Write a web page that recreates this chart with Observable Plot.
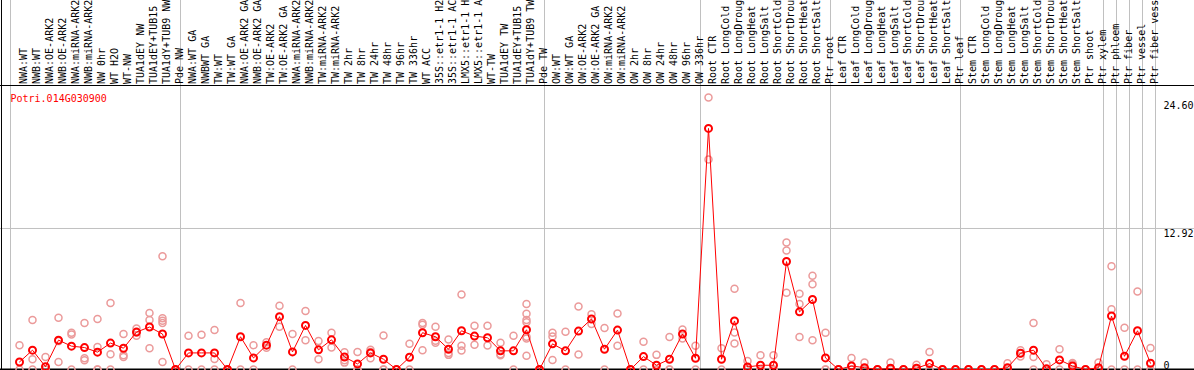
<!DOCTYPE html>
<html>
<head>
<meta charset="utf-8">
<script src="https://cdn.jsdelivr.net/npm/d3@7"></script>
<script src="https://cdn.jsdelivr.net/npm/@observablehq/plot@0.6"></script>
<style>
  html, body { margin: 0; padding: 0; background: white; }
  #chart svg { display: block; }
</style>
</head>
<body>
<div id="chart"></div>
<script>
const geneId = "Potri.014G030900";

// column labels as visible in the reference (long ones are cut at the top edge there)
const labels = [
  "NWA:WT","NWB:WT","NWA:OE-ARK2","NWB:OE-ARK2","NWA:miRNA-ARK2","NWB:miRNA-ARK2","NW 0hr","WT H2O","WT-NW","TUA1dEY NW","TUA1dEY+TUB15","TUA1dY+TUB9 NW","Pde NW",
  "NWA:WT GA","NWBWT GA","TW:WT","TW:WT GA","NWA:OE-ARK2 GA","NWB:OE-ARK2 GA","TW:OE-ARK2","TW:OE-ARK2 GA","NWA:miRNA-ARK2","NWB:miRNA-ARK2","TW:miRNA-ARK2","TW:miRNA-ARK2",
  "TW 2hr","TW 8hr","TW 24hr","TW 48hr","TW 96hr","TW 336hr","WT ACC","35S::etr1-1 H2","35S::etr1-1 AC","LMX5::etr1-1 H","LMX5::etr1-1 A","WT-TW","TUA1dEY TW","TUA1dEY+TUB15","TUA1dY+TUB9 TW","Pde TW",
  "OW:WT","OW:WT GA","OW:OE-ARK2","OW:OE-ARK2 GA","OW:miRNA-ARK2","OW:miRNA-ARK2","OW 2hr","OW 8hr","OW 24hr","OW 48hr","OW 96hr","OW 336hr",
  "Root CTR","Root LongCold","Root LongDroug","Root LongHeat","Root LongSalt","Root ShortCold","Root ShortDrou","Root ShortHeat","Root ShortSalt","Ptr root",
  "Leaf CTR","Leaf LongCold","Leaf LongDroug","Leaf LongHeat","Leaf LongSalt","Leaf ShortCold","Leaf ShortDrou","Leaf ShortHeat","Leaf ShortSalt","Ptr leaf",
  "Stem CTR","Stem LongCold","Stem LongDroug","Stem LongHeat","Stem LongSalt","Stem ShortCold","Stem ShortDrou","Stem ShortHeat","Stem ShortSalt","Ptr shoot",
  "Ptr xylem","Ptr phloem","Ptr fiber","Ptr vessel","Ptr fiber vess"
];

const means = [
  0.69,1.77,0.26,2.69,2.14,2.01,1.59,2.42,1.95,3.43,3.89,3.25,0,
  1.52,1.52,1.52,0,3.0,1.06,2.23,4.84,1.61,4.04,1.8,2.72,1.15,0.51,1.52,0.94,0,1.12,3.37,3.0,1.86,3.55,3.06,2.91,1.71,1.71,3.64,0,
  2.35,1.71,3.52,4.63,1.86,3.61,0,1.18,0.39,0.94,3.25,1.03,
  22.09,0.94,4.45,0.23,0.39,0.39,9.89,5.28,6.41,1.06,
  0,0.32,0.17,0,0.11,0,0.11,0.54,0,0,
  0,0,0,0.17,1.49,1.77,0.06,0.88,0.32,0,
  0.17,4.9,1.21,3.55,0.57
];

const replicates = [
  [2.23,0],[4.54,0.94,0],[1.15,0,0],[4.75,2.6,0.69],[3.37,3.2,0],[4.26,1.03,0.85],[4.63,2.05,0,0],[6.1,1.4,0],[3.25,1.31,1.15],[3.76,3.4,3.1],[5.18,4.54,1.95],[10.38,4.69,4.47,4.26,0.69],[0,0],
  [3.09,0],[3.18,0],[3.61,0.97,0],[0,0],[6.1,0],[2.23,0],[2.5,2.0],[5.83,3.92],[3.25,0],[5.37,2.69],[2.6,0.94],[3.37,2.01],[1.59,0.85,0.63],[1.61,0,0],[1.8,1.61,1.03],[3.12,0,0],[0,0],[2.35,0],[4.1,4.25,1.77],[3.92,2.64,2.44],[2.75,1.52,1.34],[6.87,2.17,1.73],[4.01,2.26],[4.01,2.2],[2.44,1.4,1.3],[3.09,0],[6.0,5.1,4.54,4.32,3.0,2.84,1.25],[0,0],
  [3.37,3.03,0.88],[3.46,0],[5.77,1.37],[5.06,4.17],[3.8,0],[5.12,2.17],[0,0],[2.54,0],[1.34,0,0],[2.97,0,0],[3.67,2.83],[2.17,0],
  [24.93,19.23],[1.95,0],[7.4,3.4,2.38],[0.78,0,0],[1.31,0,0],[1.31,0,0],[11.64,10.9,7.03],[6.94,6.01,2.97],[8.6,7.82,2.69],[3.37,0,0],
  [0,0],[1.06,0,0],[0.63,0,0],[0,0],[0.63,0,0],[0,0],[0.44,0],[1.61,0],[0,0],[0,0],
  [0,0],[0,0],[0,0],[0.57,0],[1.77,1.5,1.2],[4.26,1.15,0],[0.48,0],[1.86,0],[0.6,0.48],[0,0],
  [0.63,0],[9.46,5.52,0],[3.83,0],[7.15,0],[1.98,0]
];

// columns after which a grey separator is drawn
const groupEnds = [12, 40, 52, 62, 72, 83, 84, 85, 86, 87];

const yTickValues = [0, 12.92, 24.60];
const yTickLabels = ["0", "12.92", "24.60"];

const repTable = replicates.flatMap((arr, i) => arr.map(v => ({i, v})));
const meanTable = means.map((v, i) => ({i, v}));
const tickTable = yTickValues.map((v, k) => ({v, label: yTickLabels[k]}));

const W = 1194, H = 370, STEP = 13, X0 = 19;

const chart = Plot.plot({
  width: W,
  height: H,
  marginTop: 85,
  marginBottom: 1,
  marginLeft: 0,
  marginRight: 0,
  x: {type: "linear", domain: [-X0 / STEP, (W - X0) / STEP], axis: null},
  y: {domain: [0, 26.02], axis: null},
  style: {fontFamily: "'DejaVu Sans Mono', monospace", fontSize: "10px", background: "white"},
  marks: [
    // grid line
    Plot.ruleY([12.92], {stroke: "#c0c0c0", strokeWidth: 1}),
    // grey group separators, spanning the label area too
    Plot.ruleX(groupEnds, {x: d => d + 5 / STEP, stroke: "#c0c0c0", strokeWidth: 1, insetTop: -85}),
    Plot.ruleX([-9 / STEP], {stroke: "#c0c0c0", strokeWidth: 1, insetTop: -85}),
    // black frame lines
    Plot.ruleX([-18 / STEP], {stroke: "black", strokeWidth: 1, insetTop: -85}),
    Plot.ruleY([26.02], {stroke: "black", strokeWidth: 1}),
    Plot.ruleY([0], {stroke: "black", strokeWidth: 2}),
    // rotated column labels
    Plot.text(labels, {
      x: (d, i) => i, text: d => d, frameAnchor: "top", rotate: -90,
      textAnchor: "start", dy: -1.5, fill: "black"
    }),
    // gene id
    Plot.text([geneId], {frameAnchor: "top-left", dx: 10, dy: 9, textAnchor: "start", fill: "red"}),
    // y tick labels
    Plot.text(tickTable.filter(d => d.v > 0), {
      x: () => 88, y: "v", text: "label", textAnchor: "start", lineAnchor: "top", dy: 1, fill: "black"
    }),
    Plot.text(tickTable.filter(d => d.v === 0), {
      x: () => 88, y: "v", text: "label", textAnchor: "start", lineAnchor: "bottom", dy: -1, fill: "black"
    }),
    // replicate points
    Plot.dot(repTable, {x: "i", y: "v", r: 3.5, stroke: "#eb9a9a", strokeWidth: 1.5, fill: "none"}),
    // mean line and points
    Plot.line(meanTable, {x: "i", y: "v", stroke: "red", strokeWidth: 1}),
    Plot.dot(meanTable, {x: "i", y: "v", r: 3.5, stroke: "red", strokeWidth: 2, fill: "none"})
  ]
});

document.getElementById("chart").appendChild(chart);
</script>
</body>
</html>
